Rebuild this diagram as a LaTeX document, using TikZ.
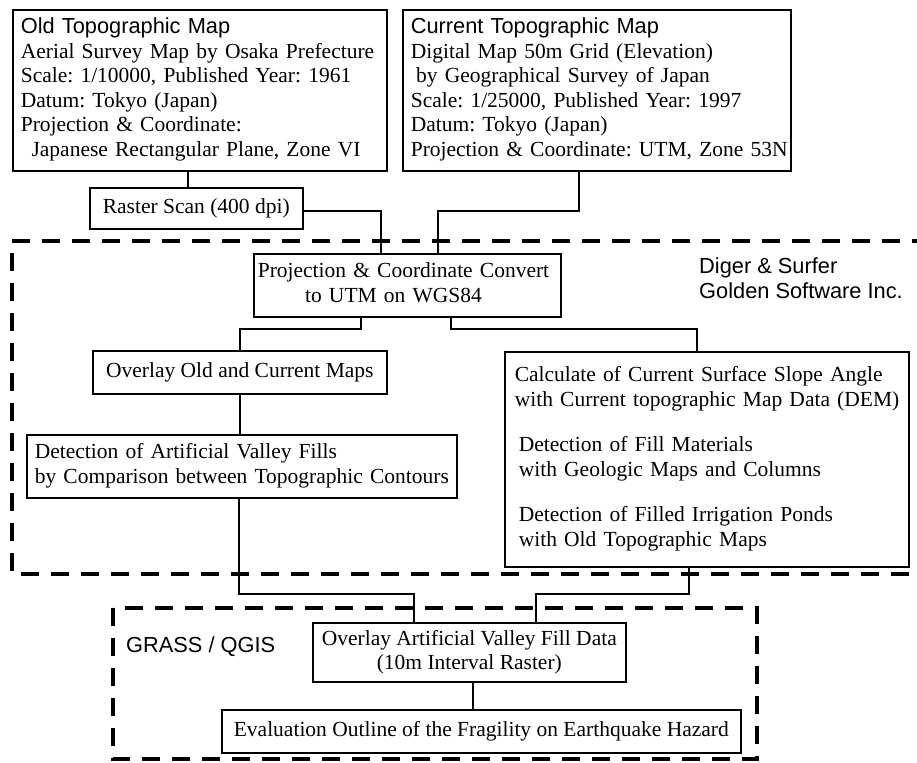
\documentclass[tikz,border=0pt]{standalone}
\usepackage{fontspec}
\setmainfont{Liberation Serif}
\setsansfont{Liberation Sans}
\usetikzlibrary{calc}
\frenchspacing
\newcommand\serf{\fontsize{21.5}{24.5}\selectfont}
\newcommand\hdr{\sffamily\fontsize{21.8}{24.5}\selectfont}
\newcommand\lines[1]{\begin{tabular}{@{}l@{}}#1\end{tabular}}
\begin{document}
\begin{tikzpicture}[x=1pt,y=-1pt,
  box/.style={draw, line width=1.6pt, anchor=north west, inner ysep=0pt, font=\serf},
  lbox/.style={box, align=left, inner xsep=8pt},
  cbox/.style={box, align=center, inner xsep=2pt},
  conn/.style={line width=1.4pt},
  group/.style={line width=4.5pt, dash pattern=on 18pt off 12pt},
  lab/.style={font=\hdr, align=left, anchor=west, inner sep=0pt}]
\useasboundingbox (0,0) rectangle (917,762);

% top boxes
\node[lbox, minimum width=374, minimum height=161, text width=358] (old) at (12,9)
 {\lines{{\hdr Old Topographic Map}\\
  Aerial Survey Map by Osaka Prefecture\\
  Scale: 1/10000, Published Year: 1961\\
  Datum: Tokyo (Japan)\\
  Projection \& Coordinate:\\
  \hspace*{0.5em}Japanese Rectangular Plane, Zone VI}};
\node[lbox, minimum width=388, minimum height=161, text width=372] (cur) at (402,9)
 {\lines{{\hdr Current Topographic Map}\\
  Digital Map 50m Grid (Elevation)\\
  \hspace*{0.25em}by Geographical Survey of Japan\\
  Scale: 1/25000, Published Year: 1997\\
  Datum: Tokyo (Japan)\\
  Projection \& Coordinate: UTM, Zone 53N}};

\node[cbox, minimum width=213, minimum height=41] (raster) at (89,187) {Raster Scan (400 dpi)};

% main group
\node[box, align=left, inner xsep=4pt, minimum width=307, minimum height=63, text width=299] (proj) at (253,253)
 {\lines{Projection \& Coordinate Convert\\\hspace*{2.2em}to UTM on WGS84}};
\node[cbox, minimum width=294, minimum height=43] (ovl) at (92,350) {Overlay Old and Current Maps};
\node[lbox, minimum width=430, minimum height=63, text width=414] (det) at (26,434)
 {\lines{Detection of Artificial Valley Fills\\by Comparison between Topographic Contours}};
\node[box, align=left, inner xsep=10pt, minimum width=404, minimum height=215, text width=384] (calc) at (504,351)
 {\lines{Calculate of Current Surface Slope Angle\\
  with Current topographic Map Data (DEM)\\[21pt]
  \hspace*{4pt}Detection of Fill Materials\\
  \hspace*{4pt}with Geologic Maps and Columns\\[21pt]
  \hspace*{4pt}Detection of Filled Irrigation Ponds\\
  \hspace*{4pt}with Old Topographic Maps}};
\node[lab] (diger) at (699,278) {Diger \& Surfer\\Golden Software Inc.};

% GRASS group
\node[cbox, minimum width=313, minimum height=59] (oav) at (312,622)
 {Overlay Artificial Valley Fill Data\\(10m Interval Raster)};
\node[cbox, minimum width=519, minimum height=43] (eval) at (221,709)
 {Evaluation Outline of the Fragility on Earthquake Hazard};
\node[lab] (grass) at (126,647) {GRASS / QGIS};

% connector bend points
\coordinate (j1) at (381,211);
\coordinate (j2) at (579,211);
\coordinate (j3) at (361,329);
\coordinate (j4) at (451,329);
\coordinate (j5) at (239,594);
\coordinate (j6) at (689,594);

% connectors
\draw[conn] ([xshift=-8.5pt]raster.north |- old.south) -- ([xshift=-8.5pt]raster.north);
\draw[conn] (raster.east |- j1) -- (j1) -- (j1 |- proj.north);
\draw[conn] (j2 |- cur.south) -- (j2) -- ([xshift=30.5pt]proj.north |- j2) -- ([xshift=30.5pt]proj.north);
\draw[conn] (j3 |- proj.south) -- (j3) -- (ovl.north |- j3) -- (ovl.north);
\draw[conn] (j4 |- proj.south) -- (j4) -- ([xshift=-10pt]calc.north |- j4) -- ([xshift=-10pt]calc.north);
\draw[conn] (ovl.south) -- (ovl.south |- det.north);
\draw[conn] (j5 |- det.south) -- (j5) -- ([xshift=-55.5pt]oav.north |- j5) -- ([xshift=-55.5pt]oav.north);
\draw[conn] (j6 |- calc.south) -- (j6) -- ([xshift=66.5pt]oav.north |- j6) -- ([xshift=66.5pt]oav.north);
\draw[conn] ([xshift=3.5pt]oav.south) -- ([xshift=3.5pt]oav.south |- eval.north);

% dashed groups
\draw[group] (930,241) -- (12,241) -- (12,574) -- (930,574);
\draw[group] (113,608) rectangle (757,759);
\end{tikzpicture}
\end{document}
